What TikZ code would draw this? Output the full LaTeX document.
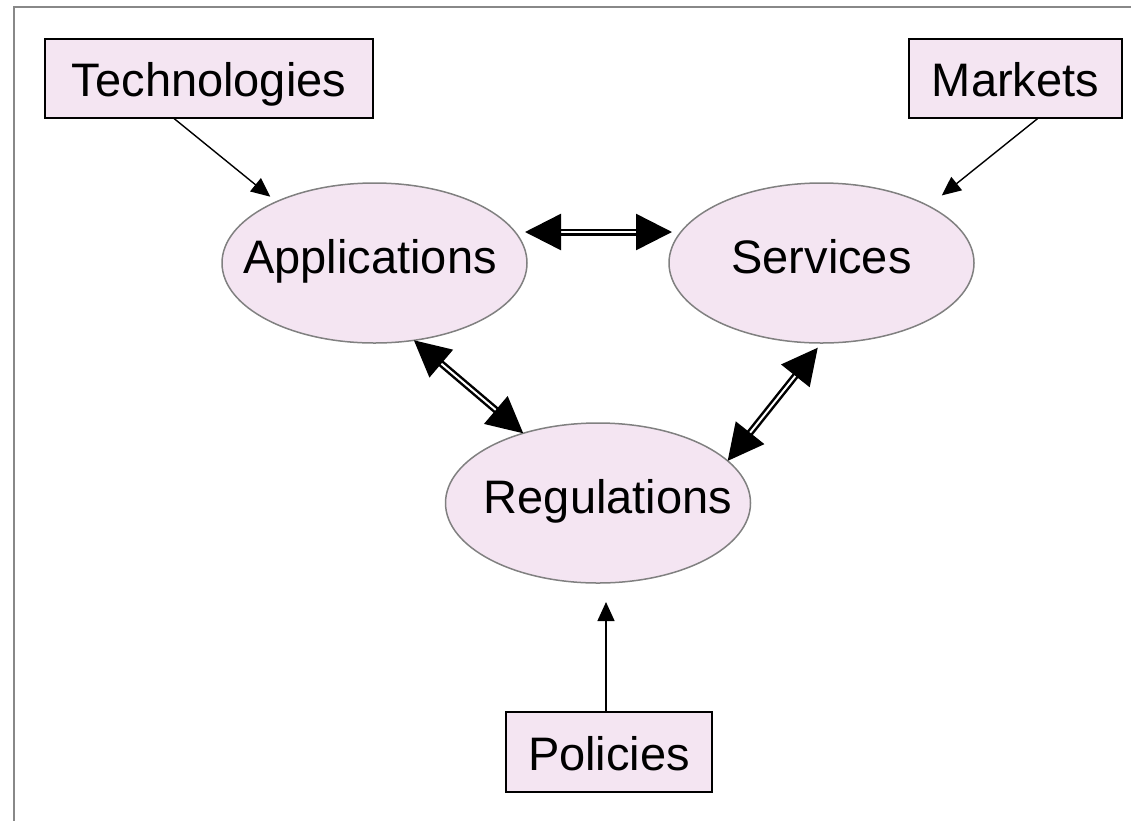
\documentclass[tikz,border=0pt]{standalone}
\usepackage{fontspec}
\setmainfont{Liberation Sans}
\usetikzlibrary{shapes.geometric,arrows.meta}
\definecolor{pinkfill}{RGB}{244,229,242}
\definecolor{framegray}{RGB}{136,136,136}
\definecolor{ellgray}{RGB}{128,128,128}
\tikzset{
  lbl/.style={font=\fontsize{47}{56}\selectfont},
  ell/.style={lbl, ellipse, draw=ellgray, line width=1.5pt, fill=pinkfill,
    inner sep=0pt, outer sep=0pt, minimum width=305pt, minimum height=160pt,
    text height=33.8pt, text depth=13.6pt},
  boxnode/.style={lbl, rectangle, draw=black, line width=1.6pt, fill=pinkfill,
    inner sep=0pt, outer sep=0pt, minimum height=79pt,
    text height=36pt, text depth=0pt},
  onearrow/.style={line width=1.4pt, -{Triangle[length=19pt,width=17pt]}},
  twoarrow/.style={double, double distance=2pt, line width=2.5pt,
    {Triangle[length=36pt,width=36pt]}-{Triangle[length=36pt,width=36pt]}}
}
\begin{document}
\begin{tikzpicture}[x=1pt,y=-1pt]
\useasboundingbox (0,0) rectangle (1131,820);
\draw[framegray, line width=2pt] (14,830) -- (14,7) -- (1140,7);

\node[boxnode, minimum width=328pt] (tech) at (209,78.5) {Technologies};
\node[boxnode, minimum width=213pt] (mkt) at (1015.5,78.5) {Markets};
\node[boxnode, minimum width=206pt, minimum height=80pt] (pol) at (609,752) {Policies};

\node[ell] (app) at (374.5,263) {\makebox[0pt]{\hspace{-9pt}Applications}};
\node[ell] (srv) at (821.5,263) {\makebox[0pt]{Services}};
\node[ell] (reg) at (598,503) {\makebox[0pt]{\hspace{20pt}Regulations}};

\draw[onearrow, shorten >=8pt] (tech.-132.3) -- (app.148.6);
\draw[onearrow, shorten >=17pt] (mkt.-60.3) -- (srv.28.1);
\draw[onearrow, shorten >=19pt] ([xshift=-3pt]pol.north) -- ([xshift=-3pt]pol.north |- reg.south);

\draw[twoarrow, shorten <=-2pt, shorten >=-3pt] ([yshift=31pt]app.east) -- ([yshift=31pt]srv.west);
\draw[twoarrow] (app.-63) -- (reg.137.9);
\draw[twoarrow, shorten <=6pt] (srv.-90) -- (reg.18.8);
\end{tikzpicture}
\end{document}
